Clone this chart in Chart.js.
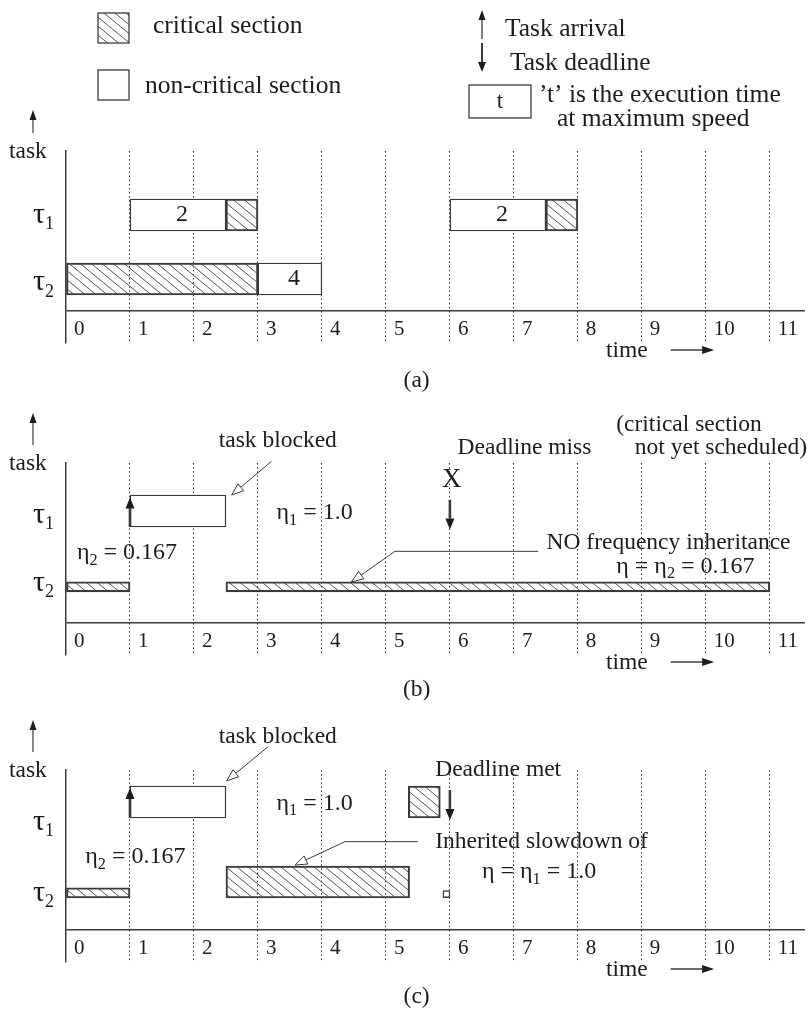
<!DOCTYPE html>
<html>
<head>
<meta charset="utf-8">
<title>Frequency inheritance schedule</title>
<script src="https://cdn.jsdelivr.net/npm/chart.js@4"></script>
<style>
  body { margin: 0; background: #fff; }
  #page { position: relative; width: 811px; height: 1010px; }
  #page canvas { position: absolute; left: 0; }
</style>
</head>
<body>
<div id="page">
  <canvas id="chartA" width="811" height="395" style="top:0"></canvas>
  <canvas id="chartB" width="811" height="305" style="top:395px"></canvas>
  <canvas id="chartC" width="811" height="310" style="top:700px"></canvas>
</div>
<script>
// time axis and tasks
const timeTicks = [0, 1, 2, 3, 4, 5, 6, 7, 8, 9, 10, 11];
const taskLabels = ['τ_1', 'τ_2'];

// (a) both tasks at maximum speed: [start, end] in time units
const aTau1Normal = [[1, 2.5], [6, 7.5]];
const aTau1Critical = [[2.5, 3], [7.5, 8]];
const aTau2Critical = [[0, 3]];
const aTau2Normal = [[3, 4]];
const aTau1Exec = ['2', '2'];
const aTau2Exec = ['4'];

// (b) no frequency inheritance
const bTau1Normal = [[1, 2.5]];
const bTau2Critical = [[0, 1], [2.5, 11]];

// (c) inherited slowdown
const cTau1Normal = [[1, 2.5]];
const cTau1Critical = [[5.35, 5.85]];
const cTau2CriticalSlow = [[0, 1]];
const cTau2CriticalFast = [[2.5, 5.37]];
const cTau2Normal = [[5.89, 6]];

const arrivalTime = 1;
const deadlineTime = 6;

const INK = '#1c1c1c';
const LINE = '#3a3a3a';
const FONT = '"Liberation Serif", "Times New Roman", serif';

function font(size) {
    return size + 'px ' + FONT;
}

// diagonal hatch used for critical sections
function makeHatch() {
    const w = 11, h = 9;
    const c = document.createElement('canvas');
    c.width = w;
    c.height = h;
    const g = c.getContext('2d');
    g.strokeStyle = '#444';
    g.lineWidth = 0.9;
    g.beginPath();
    g.moveTo(-w, -h); g.lineTo(2 * w, 2 * h);
    g.moveTo(-w, 0); g.lineTo(w, 2 * h);
    g.moveTo(0, -h); g.lineTo(2 * w, h);
    g.stroke();
    return g.createPattern(c, 'repeat');
}
const hatch = makeHatch();

// text with "_x" subscripts
function drawRich(ctx, str, x, y, size, align, subRatio) {
    const ratio = subRatio || 0.68;
    const parts = [];
    for (let i = 0; i < str.length; i++) {
        if (str[i] === '_') {
            parts.push({ s: str[i + 1], sub: true });
            i++;
        } else if (parts.length && !parts[parts.length - 1].sub) {
            parts[parts.length - 1].s += str[i];
        } else {
            parts.push({ s: str[i], sub: false });
        }
    }
    let w = 0;
    parts.forEach(p => {
        ctx.font = font(p.sub ? size * ratio : size);
        p.w = ctx.measureText(p.s).width;
        w += p.w;
    });
    let cx = align === 'center' ? x - w / 2 : (align === 'right' ? x - w : x);
    ctx.textAlign = 'left';
    ctx.textBaseline = 'middle';
    parts.forEach(p => {
        ctx.font = font(p.sub ? size * ratio : size);
        ctx.fillText(p.s, cx, p.sub ? y + size * 0.32 : y);
        cx += p.w;
    });
}

// arrow with head at (x2, y2)
function arrow(ctx, x1, y1, x2, y2, width, headLen, headHalf, open) {
    const a = Math.atan2(y2 - y1, x2 - x1);
    const bx = x2 - Math.cos(a) * headLen, by = y2 - Math.sin(a) * headLen;
    ctx.save();
    ctx.strokeStyle = LINE;
    ctx.fillStyle = open ? '#fff' : INK;
    ctx.lineWidth = width;
    ctx.beginPath();
    ctx.moveTo(x1, y1);
    ctx.lineTo(bx, by);
    ctx.stroke();
    ctx.beginPath();
    ctx.moveTo(x2, y2);
    ctx.lineTo(bx + Math.sin(a) * headHalf, by - Math.cos(a) * headHalf);
    ctx.lineTo(bx - Math.sin(a) * headHalf, by + Math.cos(a) * headHalf);
    ctx.closePath();
    ctx.fill();
    if (open) {
        ctx.lineWidth = 1;
        ctx.stroke();
    }
    ctx.restore();
}

function drawLegend(ctx) {
    ctx.save();
    ctx.strokeStyle = LINE;
    ctx.lineWidth = 1.3;
    ctx.fillStyle = hatch;
    ctx.fillRect(98, 13, 31, 30);
    ctx.strokeRect(98, 13, 31, 30);
    ctx.strokeRect(98, 70, 31, 30);
    ctx.strokeRect(469, 85, 62, 33);
    ctx.fillStyle = INK;
    drawRich(ctx, 'critical section', 153, 26, 25.5, 'left');
    drawRich(ctx, 'non-critical section', 145, 86, 25.5, 'left');
    drawRich(ctx, 'Task arrival', 505, 29, 25.5, 'left');
    drawRich(ctx, 'Task deadline', 510, 63, 25.5, 'left');
    drawRich(ctx, 't', 500, 102, 23, 'center');
    drawRich(ctx, '\u2019t\u2019 is the execution time', 539, 95, 25.5, 'left');
    drawRich(ctx, 'at maximum speed', 557, 119, 25.5, 'left');
    ctx.restore();
    arrow(ctx, 482, 39, 482, 10, 1.3, 10, 3.5);
    arrow(ctx, 482, 43, 482, 72, 2, 10, 4);
}

function panelPlugin(spec) {
    return {
        id: 'panel' + spec.id,
        afterDraw(chart) {
            const { ctx, chartArea } = chart;
            const xs = chart.scales.x, ys = chart.scales.y;
            const X = t => xs.getPixelForValue(t);
            const Y = v => ys.getPixelForValue(v);
            const zero = Y(0);
            ctx.save();
            ctx.fillStyle = INK;

            if (spec.legend) drawLegend(ctx);

            // vertical axis arrow and title
            arrow(ctx, 33, chartArea.top - 18, 33, chartArea.top - 18 - spec.arrowLen, 1.2, 10, 3.5);
            drawRich(ctx, 'task', 9, chartArea.top + 1, 23.5, 'left');

            // task names
            taskLabels.forEach((lab, i) => drawRich(ctx, lab, 33, Y(spec.labelRows[i]), 30, 'left', 0.6));

            // time tick labels
            timeTicks.forEach(v => drawRich(ctx, String(v), X(v) + 8, zero + 18, 21, 'left'));

            // time arrow
            drawRich(ctx, 'time', X(8.44), zero + 40, 23.5, 'left');
            arrow(ctx, X(9.45), zero + 39, X(10.13), zero + 39, 1.3, 12, 4);

            // caption
            drawRich(ctx, spec.caption, X(5.48), zero + spec.capOff, 23.5, 'center');

            // execution time labels on bars
            chart.data.datasets.forEach((ds, di) => {
                if (!ds.execLabels) return;
                chart.getDatasetMeta(di).data.forEach((el, j) => {
                    drawRich(ctx, ds.execLabels[j], (el.x + el.base) / 2 + 4, el.y, 24, 'center');
                });
            });

            // annotations
            (spec.notes || []).forEach(n => {
                if (n.type === 'text') {
                    drawRich(ctx, n.s, X(n.t), Y(n.v), n.size || 23.5, n.align || 'left');
                } else if (n.type === 'callout') {
                    const pts = n.pts.map(p => [X(p[0]), Y(p[1])]);
                    ctx.save();
                    ctx.strokeStyle = LINE;
                    ctx.lineWidth = 1;
                    ctx.beginPath();
                    ctx.moveTo(pts[0][0], pts[0][1]);
                    for (let k = 1; k < pts.length - 1; k++) ctx.lineTo(pts[k][0], pts[k][1]);
                    ctx.stroke();
                    ctx.restore();
                    const p1 = pts[pts.length - 2], p2 = pts[pts.length - 1];
                    arrow(ctx, p1[0], p1[1], p2[0], p2[1], 1, 12, 4.5, true);
                } else if (n.type === 'arrow') {
                    arrow(ctx, X(n.t), Y(n.v0), X(n.t), Y(n.v1), 2.6, 11, 4.5);
                }
            });
            ctx.restore();
        }
    };
}

function bars(spans, row, critical, thickness, labels) {
    return {
        data: spans.map(s => ({ x: s, y: row })),
        backgroundColor: critical ? hatch : '#ffffff',
        borderColor: LINE,
        borderWidth: 1.4,
        borderSkipped: false,
        barThickness: thickness,
        stack: 'timeline',
        execLabels: labels
    };
}

function makeChart(spec, datasets) {
    return new Chart(document.getElementById(spec.id), {
        type: 'bar',
        data: { datasets: datasets },
        options: {
            indexAxis: 'y',
            responsive: false,
            animation: false,
            events: [],
            layout: { padding: { left: 66, right: 6, top: spec.padTop, bottom: spec.padBottom } },
            plugins: { legend: { display: false }, tooltip: { enabled: false } },
            scales: {
                x: {
                    type: 'linear',
                    min: 0,
                    max: 11.55,
                    stacked: false,
                    z: 1,
                    afterBuildTicks: axis => { axis.ticks = timeTicks.map(v => ({ value: v })); },
                    ticks: { display: false },
                    grid: {
                        drawTicks: false,
                        color: c => (c.tick && c.tick.value === 0) ? 'rgba(0,0,0,0)' : '#333',
                        lineWidth: 1
                    },
                    border: { display: false, dash: [1.5, 2.6] }
                },
                y: {
                    type: 'linear',
                    min: -1,
                    max: 5,
                    offset: false,
                    afterBuildTicks: axis => { axis.ticks = [{ value: 0 }]; },
                    ticks: { display: false },
                    grid: { drawTicks: false, offset: false, color: LINE, lineWidth: 1.5 },
                    border: { display: true, color: LINE, width: 1.5 }
                }
            }
        },
        plugins: [panelPlugin(spec)]
    });
}

const specA = {
    id: 'chartA', padTop: 151, padBottom: 52, caption: '(a)', capOff: 70, arrowLen: 23,
    labelRows: [3, 0.9], legend: true
};
const specB = {
    id: 'chartB', padTop: 68, padBottom: 45, caption: '(b)', capOff: 67, arrowLen: 32,
    labelRows: [3.38, 1.26],
    notes: [
        { type: 'text', s: 'task blocked', t: 3.31, v: 5.7, align: 'center' },
        { type: 'callout', pts: [[3.21, 5.05], [2.59, 4.0]] },
        { type: 'text', s: 'η_1 = 1.0', t: 3.29, v: 3.45, size: 24 },
        { type: 'text', s: 'X', t: 6.03, v: 4.48, size: 27, align: 'center' },
        { type: 'arrow', t: arrivalTime, v0: 3.0, v1: 3.92 },
        { type: 'arrow', t: deadlineTime, v0: 3.85, v1: 2.92 },
        { type: 'text', s: 'Deadline miss', t: 6.12, v: 5.48 },
        { type: 'text', s: '(critical section', t: 8.6, v: 6.2 },
        { type: 'text', s: 'not yet scheduled)', t: 8.89, v: 5.48 },
        { type: 'text', s: 'η_2 = 0.167', t: 0.17, v: 2.2, size: 24 },
        { type: 'text', s: 'NO frequency inheritance', t: 7.51, v: 2.51 },
        { type: 'text', s: 'η = η_2 = 0.167', t: 8.6, v: 1.77, size: 24 },
        { type: 'callout', pts: [[7.38, 2.24], [5.14, 2.24], [4.46, 1.28]] }
    ]
};
const specC = {
    id: 'chartC', padTop: 70, padBottom: 48, caption: '(c)', capOff: 67, arrowLen: 32,
    labelRows: [3.38, 1.16],
    notes: [
        { type: 'text', s: 'task blocked', t: 3.31, v: 6.04, align: 'center' },
        { type: 'callout', pts: [[3.16, 5.73], [2.51, 4.66]] },
        { type: 'text', s: 'η_1 = 1.0', t: 3.29, v: 3.96, size: 24 },
        { type: 'arrow', t: arrivalTime, v0: 3.5, v1: 4.44 },
        { type: 'arrow', t: deadlineTime, v0: 4.375, v1: 3.44 },
        { type: 'text', s: 'Deadline met', t: 5.77, v: 5.0 },
        { type: 'text', s: 'η_2 = 0.167', t: 0.3, v: 2.29, size: 24 },
        { type: 'text', s: 'Inherited slowdown of', t: 5.77, v: 2.76 },
        { type: 'text', s: 'η = η_1 = 1.0', t: 6.5, v: 1.82, size: 24 },
        { type: 'callout', pts: [[5.5, 2.76], [4.36, 2.76], [3.58, 2.03]] }
    ]
};

makeChart(specA, [
    bars(aTau1Normal, 3, false, 32, aTau1Exec),
    bars(aTau1Critical, 3, true, 32),
    bars(aTau2Critical, 1, true, 32),
    bars(aTau2Normal, 1, false, 32, aTau2Exec)
]);

makeChart(specB, [
    bars(bTau1Normal, 3.5, false, 32),
    bars(bTau2Critical, 1.13, true, 10)
]);

makeChart(specC, [
    bars(cTau1Normal, 4, false, 32),
    bars(cTau1Critical, 4, true, 32),
    bars(cTau2CriticalSlow, 1.16, true, 10),
    bars(cTau2CriticalFast, 1.5, true, 32),
    bars(cTau2Normal, 1.12, false, 7)
]);
</script>
</body>
</html>
